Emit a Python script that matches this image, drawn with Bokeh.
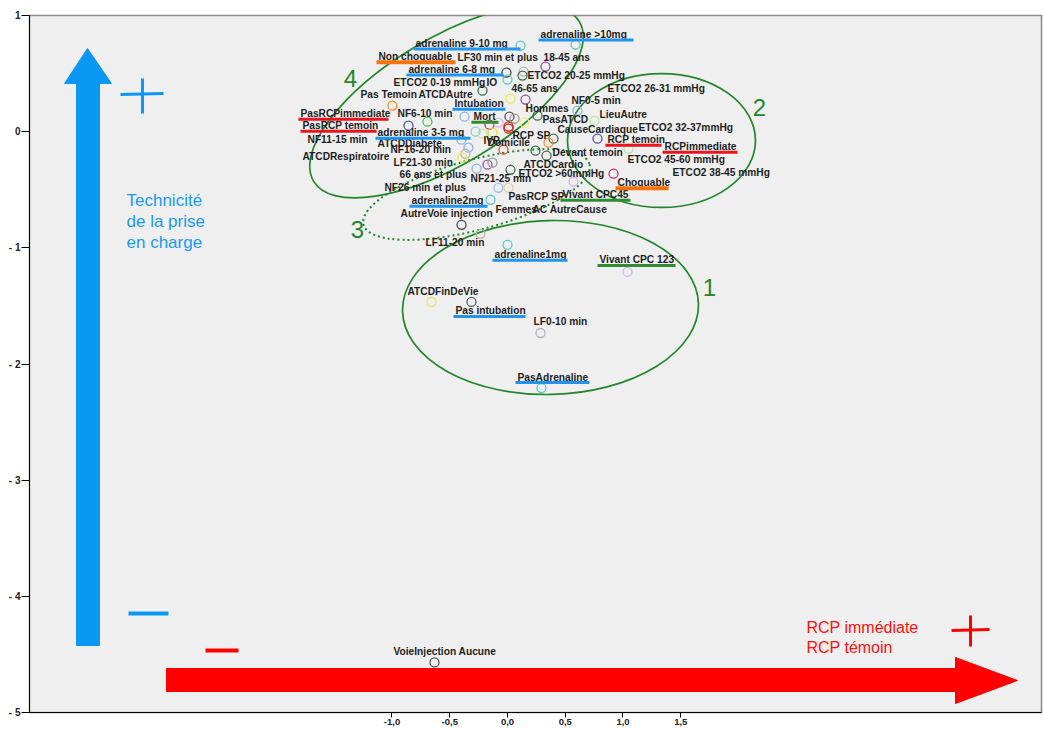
from bokeh.plotting import figure
from bokeh.models import FixedTicker, CustomJSTickFormatter, Range1d
from bokeh.core.properties import value
from bokeh.embed import file_html
from bokeh.resources import INLINE

# ---------------- data: category coordinates on the two dimensions ----------------
categories = [
    "adrenaline 9-10 mg", "adrenaline >10mg", "18-45 ans", "adrenaline 6-8 mg",
    "LF30 min et plus", "ETCO2 20-25 mmHg", "IO", "ATCDAutre", "PasRCPimmediate",
    "Intubation", "46-65 ans", "NF6-10 min", "Pas Temoin", "PasRCP temoin", "Mort",
    "ETCO2 0-19 mmHg", "Hommes", "PasATCD", "Non choquable", "ETCO2 26-31 mmHg",
    "Domicile", "ETCO2 45-60 mmHg", "ETCO2 32-37mmHg", "adrenaline 3-5 mg",
    "ATCDDiabete", "NF11-15 min", "CauseCardiaque", "RCP SP", "IVP", "ATCDCardio",
    "NF16-20 min", "LF21-30 min", "ATCDRespiratoire", "Devant temoin",
    "66 ans et plus", "Femmes", "NF21-25 min", "ETCO2 >60mmHg", "Vivant CPC45",
    "Choquable", "NF26 min et plus", "PasRCP SP", "adrenaline2mg",
    "AutreVoie injection", "LF11-20 min", "adrenaline1mg", "Vivant CPC 123",
    "ATCDFinDeVie", "Pas intubation", "LF0-10 min", "PasAdrenaline",
    "VoieInjection Aucune", "NF0-5 min", "LieuAutre", "RCP temoin", "RCPimmediate",
    "ETCO2 38-45 mmHg", "AC AutreCause",
]
dim1 = [
    0.113, 0.589, 0.329, -0.009, 0.139, 0.130, 0.000, -0.216, -0.996,
    0.026, 0.156, -0.372, -0.693, -0.857, 0.017, 0.061, 0.260, 0.147, -0.156, -0.078,
    0.009, 0.009, -0.130, -0.277, -0.216, -0.398, 0.398, 0.355, -0.035, 0.242,
    -0.338, -0.364, -0.390, 0.338, -0.173, -0.130, -0.268, 0.026, 0.571,
    0.918, -0.078, 0.009, -0.147, -0.398, -0.234, 0.000, 1.039,
    -0.658, -0.312, 0.286, 0.294, -0.632, 0.606, 0.753, 0.779, 1.048,
    0.009, -0.130,
]
dim2 = [
    0.741, 0.750, 0.560, 0.509, 0.517, 0.483, 0.448, 0.353, 0.224,
    0.284, 0.276, 0.129, 0.086, 0.052, 0.129, 0.112, 0.138, 0.078, 0.060, 0.078,
    0.043, 0.026, -0.009, 0.000, -0.017, -0.069, -0.060, -0.095, -0.155, -0.164,
    -0.138, -0.190, -0.224, -0.207, -0.284, -0.267, -0.319, -0.328, -0.431,
    -0.362, -0.483, -0.483, -0.586, -0.802, -0.879, -0.974, -1.207,
    -1.466, -1.466, -1.733, -2.207, -4.569, 0.181, 0.095, -0.060, -0.147,
    0.043, -0.267,
]
x_ticks = [-1.0, -0.5, 0.0, 0.5, 1.0, 1.5]
y_ticks = [1, 0, -1, -2, -3, -4, -5]

# ---------------- styling: ring colours and label placement (screen px) ----------------
CYAN, PURPLE, DGRAY, LGRAY = "#5cc8cc", "#9a4fa6", "#4a4a4a", "#b6b6b6"
DGREEN, ORANGE, YELLOW, LBLUE = "#3f6f4f", "#f08c2c", "#eaea55", "#8fb3e3"
ring_colors = [
    CYAN, CYAN, PURPLE, DGRAY, LGRAY, DGREEN, CYAN, DGREEN, ORANGE,
    YELLOW, PURPLE, LBLUE, "#4cc04c", "#5058b0", "#555555", "#9a9a9a", DGREEN,
    "#f2f07a", "#c8306a", "#e2b6ec", "#e83a30", "#b02828", "#e6da3a", "#7fd3d3",
    "#b6e8a6", LBLUE, DGREEN, ORANGE, "#f0502c", DGREEN, LBLUE, LGRAY, YELLOW,
    DGREEN, PURPLE, "#a8a8a8", LBLUE, DGREEN, "#d8b4f0", "#c8306a", "#9fc0ea",
    "#d8d0a0", CYAN, DGRAY, LGRAY, CYAN, "#d8b4f0", YELLOW, "#4a6070", LGRAY,
    CYAN, "#555555", LBLUE, "#b6e8a6", "#5058b0", "#b6e8a6", "#e83a30", "#a8a8a8",
]
label_dx = [
    -105, -35, -2, -98, -66, 5, -21, -64, -92,
    -56, -14, -67, -67, -106, -36, -121, -12, 18, -111, 109,
    -21, 119, 146, -98, -105, -154, 4, -36, -20, -12,
    -78, -72, -160, 6, -88, 3, -6, 8, -11,
    4, -114, 0, -79, -61, -55, -13, -28,
    -24, -16, -7, -24, -41, -6, 5, 10, 36,
    164, 40,
]
label_dy = [
    -2, -10, -9, -3, -14, 0, 3, 4, 8,
    5, -11, -3, -27, 0, 0, -36, -7, -3, -68, -34,
    16, 31, -5, 1, 10, 0, -9, -7, -9, 14,
    2, 9, -1, -3, 10, 47, 10, 4, 13,
    9, 0, 9, 1, -11, 9, 10, -12,
    -10, 9, -11, -11, -11, -10, -6, 1, -2,
    46, 47,
]

BLUE_U, RED_U, ORANGE_U, GREEN_U = "#1f95f0", "#e8141e", "#f5730a", "#2e8b2e"
underlines = {
    "adrenaline 9-10 mg": (BLUE_U, 107), "adrenaline >10mg": (BLUE_U, 95),
    "adrenaline 6-8 mg": (BLUE_U, 97), "Non choquable": (ORANGE_U, 79),
    "Intubation": (BLUE_U, 53), "Mort": (GREEN_U, 27),
    "PasRCPimmediate": (RED_U, 90), "PasRCP temoin": (RED_U, 76),
    "adrenaline 3-5 mg": (BLUE_U, 95), "RCP temoin": (RED_U, 56),
    "RCPimmediate": (RED_U, 75), "Choquable": (ORANGE_U, 53),
    "Vivant CPC45": (GREEN_U, 70), "adrenaline2mg": (BLUE_U, 78),
    "adrenaline1mg": (BLUE_U, 75), "Vivant CPC 123": (GREEN_U, 78),
    "Pas intubation": (BLUE_U, 72), "PasAdrenaline": (BLUE_U, 74),
}

# ---------------- figure geometry ----------------
W, H = 1043, 729
LEFT, RIGHT, TOP, BOTTOM = 29, 2, 15, 17
FRAME_W, FRAME_H = W - LEFT - RIGHT, H - TOP - BOTTOM
X_START, X_END = -4.1385, 4.6234
Y_START, Y_END = -5.0, 1.0
SX = FRAME_W / (X_END - X_START)
SY = FRAME_H / (Y_END - Y_START)


def cx(xp):
    """canvas x (px) -> data x"""
    return X_START + (xp - LEFT) / SX


def cy(yp):
    """canvas y (px) -> data y"""
    return Y_END - (yp - TOP) / SY


p = figure(width=W, height=H, output_backend="svg", toolbar_location=None,
           x_range=Range1d(X_START, X_END), y_range=Range1d(Y_START, Y_END),
           min_border_left=LEFT, min_border_right=RIGHT,
           min_border_top=TOP, min_border_bottom=BOTTOM)
p.background_fill_color = "#efefef"
p.border_fill_color = "white"
p.outline_line_color = "#8a8a8a"
p.outline_line_width = 1.5
p.xgrid.visible = False
p.ygrid.visible = False

for ax in (p.xaxis[0], p.yaxis[0]):
    ax.axis_line_color = "black"
    ax.major_tick_line_color = "black"
    ax.minor_tick_line_color = None
    ax.major_tick_in = 0
    ax.major_label_text_font = "Liberation Sans"
    ax.major_label_text_font_style = "bold"
    ax.major_label_text_color = "#222222"

p.xaxis.ticker = FixedTicker(ticks=x_ticks)
p.xaxis.formatter = CustomJSTickFormatter(code="return tick.toFixed(1).replace('.', ',');")
p.xaxis.major_tick_out = 5
p.xaxis.major_label_standoff = 1
p.xaxis.major_label_text_font_size = "9.5px"

p.yaxis.ticker = FixedTicker(ticks=y_ticks)
p.yaxis.formatter = CustomJSTickFormatter(
    code="return tick < 0 ? '- ' + Math.abs(tick) : String(tick);")
p.yaxis.major_tick_out = 8
p.yaxis.major_label_standoff = 1
p.yaxis.major_label_text_font_size = "10px"

# ---------------- cluster ellipses ----------------
GREEN = "#23862a"
solid = dict(fill_color=None, line_color=GREEN, line_width=1.7)
# (center px, semi-axes px, angle deg, dash)
ellipses = [((550, 307), (148, 87), 1.5, None),
            ((661, 140), (94, 67), 0, None),
            ((476, 194), (117, 35), 15, "2 3"),
            ((446, 101), (155, 63), 31, None)]
for (ecx, ecy), (ea, eb), ang, dash in ellipses:
    kw = dict(solid)
    if dash:
        kw.update(line_dash=dash, line_width=2)
    p.ellipse(x=[cx(ecx)], y=[cy(ecy)], width=[2 * ea / SX], height=[2 * eb / SY],
              angle=[ang * 3.14159265 / 180], **kw)

for txt, (tx, ty) in [("1", (709, 287)), ("2", (759, 107)), ("3", (357, 229)), ("4", (350, 78))]:
    p.text(x=[cx(tx)], y=[cy(ty)], text=[txt], text_color=GREEN,
           text_font=value("Liberation Sans"), text_font_size="24px",
           text_align="center", text_baseline="middle")

# ---------------- category points and labels ----------------
p.scatter(x=dim1, y=dim2, marker="circle", size=9, fill_color=None,
          line_color=ring_colors, line_width=1.3)

lab_x = [x + dx / SX for x, dx in zip(dim1, label_dx)]
lab_y = [y - dy / SY for y, dy in zip(dim2, label_dy)]
p.text(x=lab_x, y=lab_y, text=categories, text_color="#1e1e1e",
       text_font=value("Liberation Sans"), text_font_style="bold",
       text_font_size="10.2px", text_align="left", text_baseline="middle")

u_x0, u_x1, u_y, u_c, u_w = [], [], [], [], []
for name, (col, wpx) in underlines.items():
    i = categories.index(name)
    u_x0.append(lab_x[i] - 2 / SX)
    u_x1.append(lab_x[i] + (wpx - 2) / SX)
    u_y.append(lab_y[i] - 5.5 / SY)
    u_c.append(col)
    u_w.append(4 if col == ORANGE_U else 3)
p.segment(x0=u_x0, y0=u_y, x1=u_x1, y1=u_y, line_color=u_c, line_width=u_w)

# ---------------- interpretation arrows and signs ----------------
BLUE_A, RED_A = "#0b97f4", "#ff0000"
p.patch(x=[cx(v) for v in (76, 99, 99, 111, 87, 64, 76)],
        y=[cy(v) for v in (645, 645, 83, 83, 48, 83, 83)],
        fill_color=BLUE_A, line_color=BLUE_A)
p.patch(x=[cx(v) for v in (166, 955, 955, 1017, 955, 955, 166)],
        y=[cy(v) for v in (668, 668, 657, 680, 703, 691, 691)],
        fill_color=RED_A, line_color=RED_A)

signs = [((120, 94), (163, 93), BLUE_A, 3), ((142, 78), (142, 113), BLUE_A, 3),
         ((128, 613), (168, 613), BLUE_A, 4), ((205, 650), (238, 650), RED_A, 4),
         ((951, 630), (989, 629), RED_A, 3), ((970, 615), (970, 646), RED_A, 3)]
for (x0, y0), (x1, y1), col, lw in signs:
    p.line(x=[cx(x0), cx(x1)], y=[cy(y0), cy(y1)], line_color=col, line_width=lw)

p.text(x=[cx(126)] * 3, y=[cy(200), cy(221), cy(242)],
       text=["Technicité", "de la prise", "en charge"], text_color="#1a9af2",
       text_font=value("Liberation Sans"), text_font_size="17px",
       text_align="left", text_baseline="middle")
p.text(x=[cx(806)] * 2, y=[cy(627), cy(647)],
       text=["RCP immédiate", "RCP témoin"], text_color="#ff1010",
       text_font=value("Liberation Sans"), text_font_size="16px",
       text_align="left", text_baseline="middle")

open("out.html", "w").write(file_html(p, INLINE))
